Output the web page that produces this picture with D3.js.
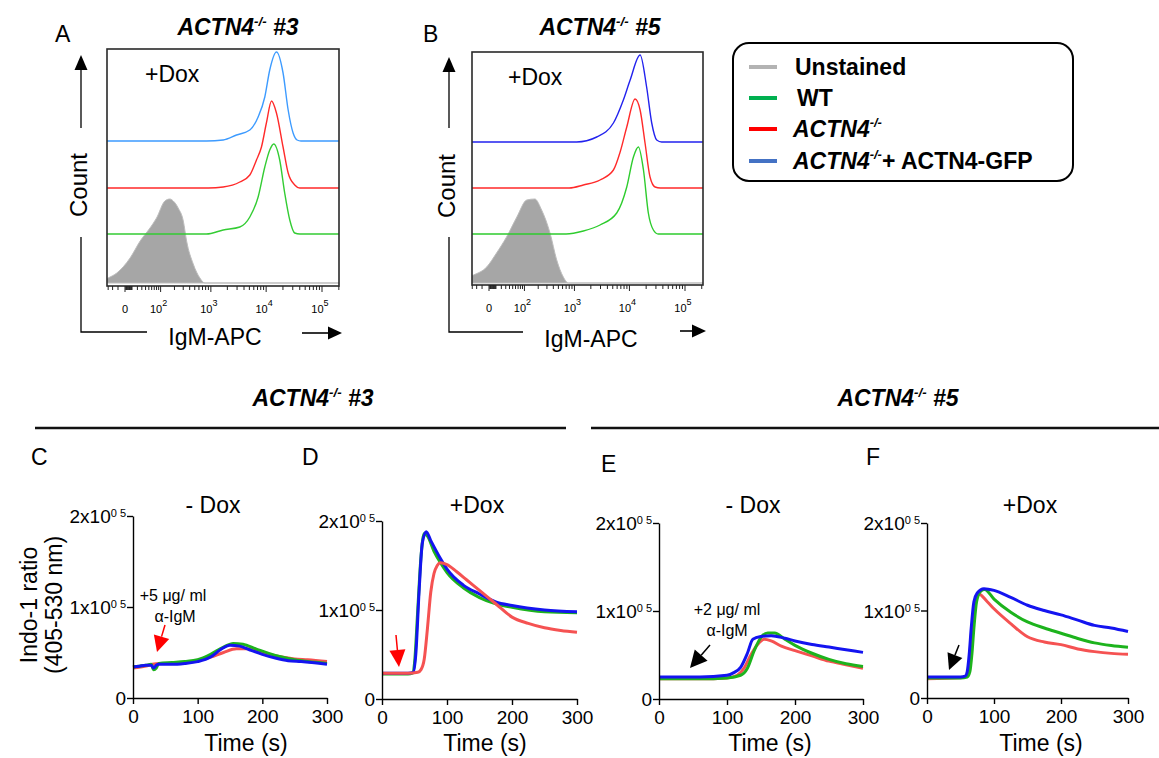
<!DOCTYPE html>
<html><head><meta charset="utf-8">
<script src="https://cdn.jsdelivr.net/npm/d3@7"></script>
<style>body{margin:0;background:#fff}svg{font-family:"Liberation Sans",Arial,sans-serif}</style>
</head><body><svg id="c" width="1159" height="758"></svg>
<script>
// ---------- DATA ----------
// Flow histograms: [IgM-APC intensity, relative count (% of max)]
const A_gray  = [[-40,3],[-30,5],[-12,10],[7,25],[26,42],[54,55],[80,65],[125,82],[160,84],[189,82],[238,75],[301,62],[349,42],[468,19],[625,5],[775,0],[250000,0]];
const A_green = [[-40,0],[830,0],[1680,4],[3360,7],[5090,17],[7180,37],[9460,67],[11600,84],[13700,90],[17500,74],[21500,41],[26500,14],[32500,1],[40000,0],[250000,0]];
const A_red   = [[-40,0],[900,0],[1680,1],[3360,6],[5090,13],[6700,28],[8240,41],[10100,65],[12500,87],[15300,75],[20100,41],[24800,15],[32500,3],[40000,0],[250000,0]];
const A_blue  = [[-40,0],[830,0],[1680,1],[2930,6],[5090,11],[7180,24],[9460,44],[11600,71],[15300,89],[20100,68],[24800,31],[30400,8],[35800,1],[42000,0],[250000,0]];
const B_gray  = [[-40,6],[-27,8],[-3,16],[11,30],[32,46],[65,66],[113,83],[170,84],[235,73],[345,50],[465,23],[620,6],[770,0],[250000,0]];
const B_green = [[-40,0],[700,0],[1460,3],[2940,9],[5900,21],[8950,47],[11800,77],[14500,87],[17900,64],[21900,21],[27000,4],[33000,0],[250000,0]];
const B_red   = [[-40,0],[800,0],[1460,3],[2940,8],[5140,18],[6800,36],[8950,61],[12650,89],[15570,78],[19100,45],[23500,11],[29000,1],[36000,0],[250000,0]];
const B_blue  = [[-40,0],[1100,0],[2560,5],[5140,19],[7770,42],[10300,62],[15570,87],[20400,55],[25200,19],[31000,2],[38000,0],[250000,0]];
const flowTicks = [0, 100, 1000, 10000, 100000];
const flowTickExp = ["0", "2", "3", "4", "5"];

// Calcium flux: [time (s), Indo-1 ratio (x1000)]
const C_green = [[0,34],[10,35],[20,36],[28,37],[32,31],[36,33],[40,38],[60,39],[80,40],[100,42],[120,48],[140,56],[155,60],[170,59],[190,54],[210,49],[230,45],[250,42],[270,40],[300,38]];
const C_blue  = [[0,34],[10,35],[20,36],[28,36],[32,33],[36,36],[40,37],[60,37],[80,38],[100,40],[120,45],[135,53],[150,58],[165,57],[180,53],[200,48],[220,44],[240,41],[260,40],[300,37]];
const C_red   = [[0,33],[20,35],[30,37],[40,38],[60,38],[80,39],[100,41],[120,45],[140,50],[160,54],[175,54],[190,52],[210,48],[230,45],[250,43],[270,42],[300,40]];
const D_red   = [[0,29],[40,29],[55,30],[60,33],[65,45],[70,80],[75,120],[80,141],[85,150],[90,153],[100,151],[115,143],[130,134],[150,122],[175,107],[200,92],[225,85],[250,80],[275,77],[300,75]];
const D_green = [[0,28],[40,28],[47,29],[50,40],[55,100],[60,160],[65,186],[70,183],[80,166],[90,153],[100,142],[125,125],[150,114],[175,107],[200,103],[250,98],[300,97]];
const D_blue  = [[0,29],[40,29],[48,30],[52,50],[57,120],[62,175],[68,188],[75,178],[89,159],[100,146],[125,128],[150,118],[175,109],[200,105],[250,100],[300,98]];
const E_blue  = [[0,25],[60,25],[100,27],[110,30],[120,36],[130,52],[138,68],[150,71],[165,72],[185,69],[200,66],[225,62],[250,59],[275,56],[300,53]];
const E_green = [[0,23],[60,23],[100,24],[120,27],[130,35],[140,55],[150,70],[160,75],[170,75],[185,68],[200,61],[225,52],[250,45],[275,40],[300,37]];
const E_red   = [[0,23],[60,23],[100,24],[115,27],[125,35],[135,50],[145,62],[155,68],[165,66],[180,60],[200,55],[225,49],[250,43],[275,39],[300,35]];
const F_blue  = [[0,24],[50,24],[57,25],[60,30],[63,50],[66,80],[70,110],[75,120],[85,125],[100,123],[125,115],[150,106],[175,100],[200,95],[225,89],[250,83],[275,80],[300,76]];
const F_green = [[0,23],[50,23],[60,24],[64,30],[67,50],[70,80],[74,110],[80,122],[86,124],[100,113],[125,98],[150,87],[175,80],[200,74],[225,68],[250,63],[275,60],[300,58]];
const F_red   = [[0,22],[50,23],[60,25],[63,40],[66,70],[70,100],[74,115],[77,119],[90,110],[100,102],[125,85],[150,70],[175,64],[200,61],[225,56],[250,53],[275,51],[300,50]];
const timeTicks = [0, 100, 200, 300];
const ratioTicks = [0, 100000, 200000];

const legendLabels = ["Unstained", "WT", "ACTN4", "ACTN4"];
const legendColors = ["#b3b3b3", "#00b050", "#ff0000", "#4472c4"];

// ---------- DRAW ----------
const svg = d3.select("#c");
const FONT = '"Liberation Sans", Arial, sans-serif';

function arrow(g, x1, y1, x2, y2, color, L, W, sw) {
  const a = Math.atan2(y2 - y1, x2 - x1);
  const bx = x2 - L * Math.cos(a), by = y2 - L * Math.sin(a);
  g.append("line").attr("x1", x1).attr("y1", y1).attr("x2", bx).attr("y2", by)
    .attr("stroke", color).attr("stroke-width", sw);
  g.append("polygon").attr("points", [
    [x2, y2], [bx + W * Math.sin(a), by - W * Math.cos(a)], [bx - W * Math.sin(a), by + W * Math.cos(a)]
  ].map(p => p.join(",")).join(" ")).attr("fill", color);
}

function actnTitle(g, x, y, num, size) {
  const t = g.append("text").attr("x", x).attr("y", y).attr("text-anchor", "middle")
    .attr("font-size", size).attr("font-weight", "bold").attr("font-style", "italic");
  t.append("tspan").text("ACTN4");
  t.append("tspan").attr("dy", -9).attr("font-size", size * 0.58).text("-/-");
  t.append("tspan").attr("dy", 9).text(" #" + num);
}

function label(x, y, s) {
  svg.append("text").attr("x", x).attr("y", y).attr("font-size", 23).text(s);
}

// Flow panels
function flowPanel(cfg) {
  const g = svg.append("g");
  const xs = d3.scaleSymlog().constant(30).domain([0, 1e5]).range([cfg.s0, cfg.s5]);
  const hs = d3.scaleLinear().domain([0, 100]).range([0, 100]);
  const id = "clip" + cfg.id;
  svg.append("clipPath").attr("id", id).append("rect")
    .attr("x", cfg.x0).attr("y", cfg.y0).attr("width", cfg.x1 - cfg.x0).attr("height", cfg.y1 - cfg.y0);
  const pg = g.append("g").attr("clip-path", `url(#${id})`);
  const area = d3.area().x(d => xs(d[0])).y0(cfg.bGray).y1(d => cfg.bGray - hs(d[1])).curve(d3.curveMonotoneX);
  pg.append("path").datum(cfg.gray).attr("d", area).attr("fill", "#a6a6a6").attr("stroke", "#bdbdbd").attr("stroke-width", 1);
  const series = [[cfg.green, cfg.bGreen, cfg.cGreen], [cfg.red, cfg.bRed, cfg.cRed], [cfg.blue, cfg.bBlue, cfg.cBlue]];
  series.forEach(([data, base, col]) => {
    const ln = d3.line().x(d => xs(d[0])).y(d => base - hs(d[1])).curve(d3.curveMonotoneX);
    pg.append("path").datum(data).attr("d", ln).attr("fill", "none").attr("stroke", col).attr("stroke-width", 1.4);
  });
  g.append("rect").attr("x", cfg.x0).attr("y", cfg.y0).attr("width", cfg.x1 - cfg.x0).attr("height", cfg.y1 - cfg.y0)
    .attr("fill", "none").attr("stroke", "#2a2a2a").attr("stroke-width", 1.6);
  const minor = [-30, -20, -10];
  for (let k = 0; k <= 5; k++) for (let m = 1; m <= 9; m++) {
    const v = m * Math.pow(10, k);
    if (xs(v) < cfg.x1) minor.push(v);
  }
  minor.forEach(v => {
    const major = flowTicks.includes(v);
    g.append("line").attr("x1", xs(v)).attr("x2", xs(v)).attr("y1", cfg.y1).attr("y2", cfg.y1 + (major ? 6 : 4))
      .attr("stroke", "#222").attr("stroke-width", 1);
  });
  g.append("line").attr("x1", xs(0)).attr("x2", xs(0)).attr("y1", cfg.y1).attr("y2", cfg.y1 + 6).attr("stroke", "#222");
  flowTicks.forEach((v, i) => {
    const t = g.append("text").attr("x", xs(v) - (i ? 2 : 0)).attr("y", cfg.y1 + 27).attr("text-anchor", "middle")
      .attr("font-size", 11);
    if (i === 0) t.text("0");
    else {
      t.append("tspan").text("10");
      t.append("tspan").attr("dy", -7).attr("font-size", 9).text(flowTickExp[i]);
    }
  });
  arrow(g, cfg.ax, 128, cfg.ax, cfg.ay, "#000", 15, 6.5, 1.3);
  g.append("path").attr("d", `M${cfg.ax},237V332H${cfg.hx}`).attr("fill", "none").attr("stroke", "#000").attr("stroke-width", 1.3);
  arrow(g, cfg.rx0, cfg.ry, cfg.rx1, cfg.ry, "#000", 14, 6.5, 1.6);
  g.append("text").attr("transform", `translate(${cfg.countX},${cfg.countY}) rotate(-90)`).attr("text-anchor", "middle")
    .attr("font-size", 24).text("Count");
  g.append("text").attr("x", cfg.igmX).attr("y", cfg.igmY).attr("text-anchor", "middle").attr("font-size", 23).text("IgM-APC");
  g.append("text").attr("x", cfg.doxX).attr("y", cfg.doxY).attr("font-size", 23).text("+Dox");
  actnTitle(g, cfg.titleX, 35, cfg.num, 23);
}

flowPanel({id: "A", num: 3, x0: 107, x1: 339, y0: 49, y1: 286, s0: 125, s5: 322,
  gray: A_gray, green: A_green, red: A_red, blue: A_blue,
  bGray: 283, bGreen: 234, bRed: 188, bBlue: 141,
  cGreen: "#33cc33", cRed: "#ff2a2a", cBlue: "#3d9bff",
  ax: 81, ay: 55, hx: 147, rx0: 302, rx1: 342, ry: 333, countX: 87, countY: 185, igmX: 215, igmY: 345,
  doxX: 145, doxY: 82, titleX: 238});
flowPanel({id: "B", num: 5, x0: 472, x1: 703, y0: 52, y1: 285, s0: 489, s5: 685,
  gray: B_gray, green: B_green, red: B_red, blue: B_blue,
  bGray: 283, bGreen: 234, bRed: 188, bBlue: 142,
  cGreen: "#2ecc2e", cRed: "#ff2a2a", cBlue: "#2222ee",
  ax: 449, ay: 57, hx: 523, rx0: 680, rx1: 706, ry: 331, countX: 455, countY: 186, igmX: 591, igmY: 347,
  doxX: 508, doxY: 85, titleX: 600});

label(55, 42, "A");
label(423, 42, "B");

// Legend
const lg = svg.append("g");
lg.append("rect").attr("x", 733).attr("y", 43).attr("width", 340).attr("height", 138).attr("rx", 16)
  .attr("fill", "#fff").attr("stroke", "#000").attr("stroke-width", 2);
const legY = [67, 98, 129, 161];
legendLabels.forEach((s, i) => {
  lg.append("line").attr("x1", 749).attr("x2", 777).attr("y1", legY[i]).attr("y2", legY[i])
    .attr("stroke", legendColors[i]).attr("stroke-width", 4);
  const t = lg.append("text").attr("x", i >= 2 ? 793 : (i === 1 ? 797 : 795)).attr("y", legY[i] + 8)
    .attr("font-size", 23).attr("font-weight", "bold");
  if (i < 2) t.text(s);
  else {
    t.append("tspan").attr("font-style", "italic").text(s);
    t.append("tspan").attr("font-style", "italic").attr("dy", -10).attr("font-size", 13).text("-/-");
    if (i === 3) t.append("tspan").attr("dy", 10).text("+ ACTN4-GFP");
  }
});

// Section titles and rules
actnTitle(svg, 313, 406, 3, 23);
actnTitle(svg, 898, 406, 5, 23);
svg.append("line").attr("x1", 35).attr("x2", 566).attr("y1", 428).attr("y2", 428).attr("stroke", "#111").attr("stroke-width", 2.5);
svg.append("line").attr("x1", 591).attr("x2", 1159).attr("y1", 428).attr("y2", 428).attr("stroke", "#111").attr("stroke-width", 2.5);
label(31, 465, "C");
label(302, 465, "D");
label(601, 472, "E");
label(866, 465, "F");

// Calcium panels
const lineCols = {green: "#1db31d", red: "#f55252", blue: "#1414f0"};
function caPanel(cfg) {
  const g = svg.append("g");
  const xs = d3.scaleLinear().domain([0, 300]).range([cfg.x0, cfg.x3]);
  const ys = d3.scaleLinear().domain([0, 200000]).range([cfg.y0, cfg.y2]);
  const ln = d3.line().x(d => xs(d[0])).y(d => ys(d[1] * 1000)).curve(d3.curveMonotoneX);
  cfg.order.forEach(k => {
    g.append("path").datum(cfg.data[k]).attr("d", ln).attr("fill", "none")
      .attr("stroke", lineCols[k]).attr("stroke-width", 3).attr("stroke-linejoin", "round");
  });
  const xa = g.append("g").attr("transform", `translate(0,${cfg.y0})`)
    .call(d3.axisBottom(xs).tickValues(timeTicks).tickSize(6).tickSizeOuter(0).tickPadding(6));
  xa.selectAll("text").attr("font-size", 19).attr("font-family", FONT).attr("fill", "#000").attr("dy", "0.71em");
  const ya = g.append("g").attr("transform", `translate(${cfg.x0},0)`)
    .call(d3.axisLeft(ys).tickValues(ratioTicks).tickSize(6).tickSizeOuter(0).tickFormat(""));
  [xa, ya].forEach(a => { a.select(".domain").attr("stroke", "#000").attr("stroke-width", 1.4);
    a.selectAll(".tick line").attr("stroke", "#000").attr("stroke-width", 1.4); });
  ratioTicks.forEach(v => {
    const t = g.append("text").attr("x", cfg.x0 - 7).attr("y", ys(v) + 7).attr("text-anchor", "end").attr("font-size", 19);
    if (v === 0) t.text("0");
    else {
      t.append("tspan").text((v / 100000) + "x10");
      t.append("tspan").attr("dy", -6).attr("font-size", 11).text("0 5");
    }
  });
  g.append("text").attr("x", cfg.timeX).attr("y", 751).attr("text-anchor", "middle").attr("font-size", 23).text("Time (s)");
  g.append("text").attr("x", cfg.titleX).attr("y", 513).attr("text-anchor", "middle").attr("font-size", 23).text(cfg.title);
}

caPanel({x0: 133, x3: 327, y0: 698, y2: 516, data: {green: C_green, blue: C_blue, red: C_red}, order: ["red", "green", "blue"],
  timeX: 246, titleX: 213, title: "- Dox"});
caPanel({x0: 382, x3: 577, y0: 699, y2: 521, data: {green: D_green, blue: D_blue, red: D_red}, order: ["green", "blue", "red"],
  timeX: 485, titleX: 477, title: "+Dox"});
caPanel({x0: 659, x3: 863, y0: 699, y2: 523, data: {green: E_green, blue: E_blue, red: E_red}, order: ["red", "green", "blue"],
  timeX: 770, titleX: 753, title: "- Dox"});
caPanel({x0: 927, x3: 1128, y0: 698, y2: 523, data: {green: F_green, blue: F_blue, red: F_red}, order: ["red", "green", "blue"],
  timeX: 1041, titleX: 1030, title: "+Dox"});

svg.append("text").attr("transform", "translate(37,605) rotate(-90)").attr("text-anchor", "middle").attr("font-size", 23).text("Indo-1 ratio");
svg.append("text").attr("transform", "translate(62,605) rotate(-90)").attr("text-anchor", "middle").attr("font-size", 23).text("(405-530 nm)");

const an = svg.append("g").attr("font-size", 16).attr("text-anchor", "middle");
an.append("text").attr("x", 173).attr("y", 601).text("+5 μg/ ml");
an.append("text").attr("x", 175).attr("y", 622).text("α-IgM");
an.append("text").attr("x", 727).attr("y", 615).text("+2 μg/ ml");
an.append("text").attr("x", 727).attr("y", 636).text("α-IgM");
arrow(svg, 165, 625, 157, 652, "#ff0000", 16, 8, 1.5);
arrow(svg, 396, 635, 399, 667, "#ff0000", 17, 8, 1.5);
arrow(svg, 710, 645, 690, 668, "#000", 17, 8.5, 1.5);
arrow(svg, 959, 645, 949, 670, "#000", 16, 8, 1.5);
</script></body></html>
